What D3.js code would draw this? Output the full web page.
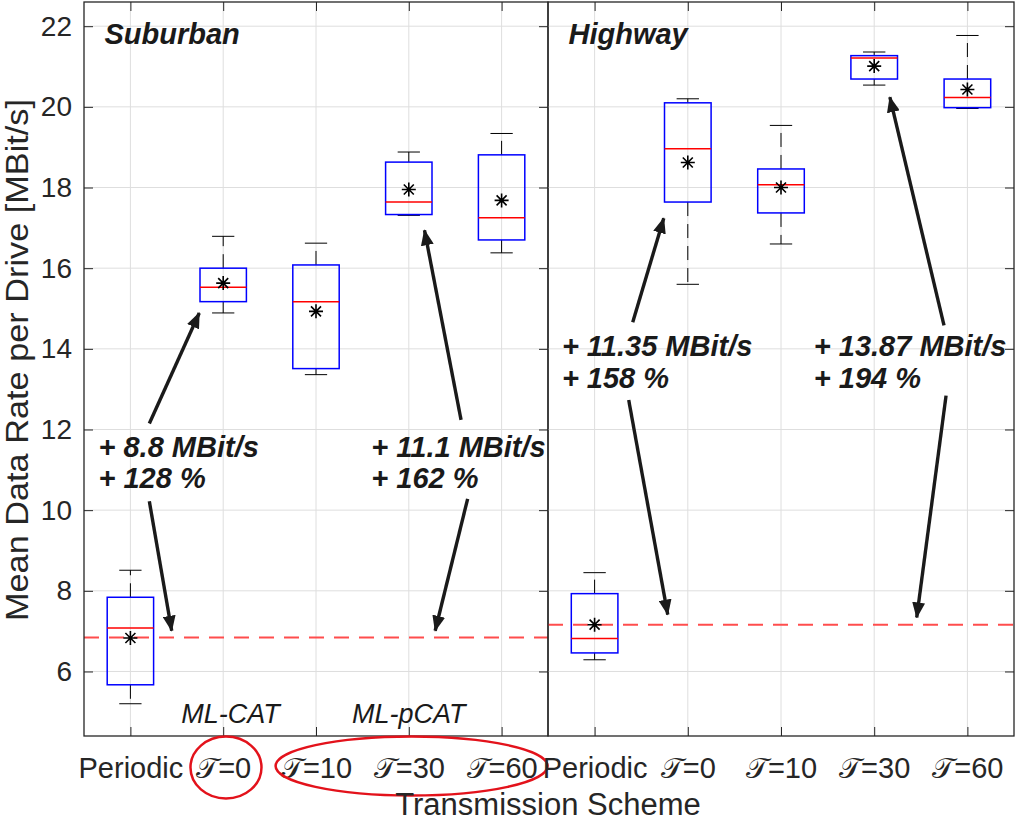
<!DOCTYPE html>
<html>
<head>
<meta charset="utf-8">
<script src="https://d3js.org/d3.v7.min.js"></script>
<style>
body { margin: 0; background: #fff; }
svg { display: block; font-family: 'Liberation Sans', Arial, sans-serif; }
</style>
</head>
<body>
<div id="chart"></div>
<script>
// tick labels
var schemes = ['Periodic', '\u{1D4AF}=0', '\u{1D4AF}=10', '\u{1D4AF}=30', '\u{1D4AF}=60'];
var yTicks = [6, 8, 10, 12, 14, 16, 18, 20, 22];

// suburban - box stats per scheme [MBit/s]
var subLow  = [5.20, 14.89, 13.36, 17.31, 16.38];
var subQ1   = [5.67, 15.17, 13.51, 17.33, 16.70];
var subMed  = [7.08, 15.53, 15.17, 17.64, 17.25];
var subQ3   = [7.84, 16.00, 16.08, 18.63, 18.81];
var subHigh = [8.51, 16.79, 16.62, 18.88, 19.34];
var subMean = [6.83, 15.63, 14.93, 17.95, 17.68];
var subBase = 6.84;

// highway
var hwLow  = [6.29, 15.60, 16.60, 20.54, 19.96];
var hwQ1   = [6.46, 17.64, 17.37, 20.69, 19.98];
var hwMed  = [6.82, 18.96, 18.07, 21.21, 20.23];
var hwQ3   = [7.93, 20.10, 18.46, 21.27, 20.69];
var hwHigh = [8.45, 20.20, 19.54, 21.36, 21.77];
var hwMean = [7.16, 18.62, 18.00, 21.01, 20.43];
var hwBase = 7.16;

// gains vs periodic
var subGainAbs = ['8.8', '11.1'];
var subGainPct = [128, 162];
var hwGainAbs = ['11.35', '13.87'];
var hwGainPct = [158, 194];

var width = 1015, height = 823;
var plotTop = 2, plotBottom = 736;

var y = d3.scaleLinear().domain([4.4, 22.6]).range([plotBottom, plotTop]);

// annotation layout in data units (category index, value)
var subNotes = [
    {text: [-0.344, 11.33], up: [[0.204, 12.15], [0.742, 14.89]], down: [[0.204, 10.22], [0.445, 7.01]]},
    {text: [2.596, 11.33], up: [[3.563, 12.24], [3.169, 16.94]], down: [[3.634, 10.28], [3.284, 7.01]]}
];
var hwNotes = [
    {text: [-0.351, 13.81], up: [[0.409, 14.66], [0.742, 17.24]], down: [[0.366, 12.73], [0.785, 7.41]]},
    {text: [2.352, 13.81], up: [[3.749, 14.58], [3.168, 20.24]], down: [[3.771, 12.84], [3.456, 7.34]]}
];

var panels = [
    {name: 'Suburban', x0: 84, x1: 548, low: subLow, q1: subQ1, med: subMed, q3: subQ3, high: subHigh, mean: subMean,
     base: subBase, gainAbs: subGainAbs, gainPct: subGainPct, notes: subNotes, left: true},
    {name: 'Highway', x0: 548, x1: 1014, low: hwLow, q1: hwQ1, med: hwMed, q3: hwQ3, high: hwHigh, mean: hwMean,
     base: hwBase, gainAbs: hwGainAbs, gainPct: hwGainPct, notes: hwNotes, left: false}
];

var svg = d3
.select('#chart')
.append('svg')
.attr('width', width)
.attr('height', height)
;

svg.append('defs')
.append('marker')
.attr('id', 'head')
.attr('markerUnits', 'userSpaceOnUse')
.attr('viewBox', '0 0 16 13')
.attr('refX', 15)
.attr('refY', 6.5)
.attr('markerWidth', 16)
.attr('markerHeight', 13)
.attr('orient', 'auto')
.append('path')
.attr('d', 'M0,0 L16,6.5 L0,13 Z')
.attr('fill', '#1a1a1a')
;

var idx = d3.range(5);

panels.forEach(function(p) {
    var x = d3.scaleLinear().domain([-0.5, 4.5]).range([p.x0, p.x1]);
    var g = svg.append('g').attr('class', 'panel');

    // grid
    g.selectAll('line.gx')
    .data(idx)
    .enter()
    .append('line')
    .attr('x1', function(d){return x(d);})
    .attr('x2', function(d){return x(d);})
    .attr('y1', plotTop)
    .attr('y2', plotBottom)
    .attr('stroke', '#dedede')
    .attr('stroke-width', 1)
    ;
    g.selectAll('line.gy')
    .data(yTicks)
    .enter()
    .append('line')
    .attr('x1', p.x0)
    .attr('x2', p.x1)
    .attr('y1', function(d){return y(d);})
    .attr('y2', function(d){return y(d);})
    .attr('stroke', '#dedede')
    .attr('stroke-width', 1)
    ;

    // periodic reference line
    g.append('line')
    .attr('x1', p.x0)
    .attr('x2', p.x1)
    .attr('y1', y(p.base))
    .attr('y2', y(p.base))
    .attr('stroke', '#ff4d4d')
    .attr('stroke-width', 2)
    .attr('stroke-dasharray', '15,10')
    ;

    // whiskers
    var half = 0.25, cap = 0.12;
    var box = g.selectAll('g.box')
    .data(idx)
    .enter()
    .append('g')
    .attr('class', 'box')
    ;
    box.append('line')
    .attr('x1', function(d){return x(d);})
    .attr('x2', function(d){return x(d);})
    .attr('y1', function(d){return y(p.q3[d]);})
    .attr('y2', function(d){return y(p.high[d]);})
    .attr('stroke', '#000')
    .attr('stroke-dasharray', '14,8')
    ;
    box.append('line')
    .attr('x1', function(d){return x(d);})
    .attr('x2', function(d){return x(d);})
    .attr('y1', function(d){return y(p.q1[d]);})
    .attr('y2', function(d){return y(p.low[d]);})
    .attr('stroke', '#000')
    .attr('stroke-dasharray', '14,8')
    ;
    ['high', 'low'].forEach(function(k) {
        box.append('line')
        .attr('x1', function(d){return x(d - cap);})
        .attr('x2', function(d){return x(d + cap);})
        .attr('y1', function(d){return y(p[k][d]);})
        .attr('y2', function(d){return y(p[k][d]);})
        .attr('stroke', '#000')
        .attr('stroke-width', 1)
        ;
    });
    box.append('rect')
    .attr('x', function(d){return x(d - half);})
    .attr('width', function(d){return x(d + half) - x(d - half);})
    .attr('y', function(d){return y(p.q3[d]);})
    .attr('height', function(d){return y(p.q1[d]) - y(p.q3[d]);})
    .attr('fill', 'none')
    .attr('stroke', '#0000ff')
    .attr('stroke-width', 1.5)
    ;
    box.append('line')
    .attr('x1', function(d){return x(d - half);})
    .attr('x2', function(d){return x(d + half);})
    .attr('y1', function(d){return y(p.med[d]);})
    .attr('y2', function(d){return y(p.med[d]);})
    .attr('stroke', '#ff0000')
    .attr('stroke-width', 1.5)
    ;
    box.append('path')
    .attr('transform', function(d){return 'translate(' + x(d) + ',' + y(p.mean[d]) + ')';})
    .attr('d', 'M-7,0H7M0,-7V7M-5,-5L5,5M-5,5L5,-5')
    .attr('stroke', '#000')
    .attr('stroke-width', 1.6)
    ;

    // axes
    var bottomAxis = d3.axisBottom(x)
    .tickValues(idx)
    .tickFormat(function(d){return schemes[d];})
    .tickSizeInner(-9)
    .tickSizeOuter(0)
    .tickPadding(21)
    ;
    var ax = g.append('g')
    .attr('transform', 'translate(0,' + plotBottom + ')')
    .call(bottomAxis)
    ;
    ax.select('.domain').remove();
    ax.selectAll('line').attr('stroke', '#262626');
    ax.selectAll('text')
    .attr('fill', '#262626')
    .style('font-size', '29px')
    ;

    var topAxis = g.append('g')
    .attr('transform', 'translate(0,' + plotTop + ')')
    .call(d3.axisTop(x).tickValues(idx).tickSizeInner(-9).tickSizeOuter(0).tickFormat(''))
    ;
    topAxis.select('.domain').remove();
    topAxis.selectAll('line').attr('stroke', '#262626');

    if (p.left) {
        var la = g.append('g')
        .attr('transform', 'translate(' + p.x0 + ',0)')
        .call(d3.axisLeft(y).tickValues(yTicks).tickSizeInner(-9).tickSizeOuter(0).tickPadding(12))
        ;
        la.select('.domain').remove();
        la.selectAll('line').attr('stroke', '#262626');
        la.selectAll('text')
        .attr('fill', '#262626')
        .style('font-size', '28px')
        ;
    }
    var ra = g.append('g')
    .attr('transform', 'translate(' + p.x1 + ',0)')
    .call(d3.axisRight(y).tickValues(yTicks).tickSizeInner(-9).tickSizeOuter(0).tickFormat(''))
    ;
    ra.select('.domain').remove();
    ra.selectAll('line').attr('stroke', '#262626');

    g.append('rect')
    .attr('x', p.x0)
    .attr('y', plotTop)
    .attr('width', p.x1 - p.x0)
    .attr('height', plotBottom - plotTop)
    .attr('fill', 'none')
    .attr('stroke', '#262626')
    .attr('stroke-width', 1.3)
    ;

    // panel title
    g.append('text')
    .attr('x', x(-0.28))
    .attr('y', y(21.57))
    .attr('font-weight', 'bold')
    .attr('font-style', 'italic')
    .style('font-size', '29px')
    .attr('fill', '#1a1a1a')
    .text(p.name)
    ;

    // gain annotations
    p.notes.forEach(function(n, i) {
        var t = g.append('text')
        .attr('x', x(n.text[0]))
        .attr('y', y(n.text[1]))
        .attr('font-weight', 'bold')
        .attr('font-style', 'italic')
        .style('font-size', '29px')
        .attr('fill', '#1a1a1a')
        ;
        t.append('tspan').attr('x', x(n.text[0])).text('+ ' + p.gainAbs[i] + ' MBit/s');
        t.append('tspan').attr('x', x(n.text[0])).attr('dy', '1.08em').text('+ ' + p.gainPct[i] + ' %');

        [n.up, n.down].forEach(function(a) {
            g.append('line')
            .attr('x1', x(a[0][0]))
            .attr('y1', y(a[0][1]))
            .attr('x2', x(a[1][0]))
            .attr('y2', y(a[1][1]))
            .attr('stroke', '#1a1a1a')
            .attr('stroke-width', 3.4)
            .attr('marker-end', 'url(#head)')
            ;
        });
    });

    if (p.left) {
        // scheme families
        g.append('text')
        .attr('x', x(1.08))
        .attr('y', y(4.71))
        .attr('text-anchor', 'middle')
        .attr('font-style', 'italic')
        .style('font-size', '27px')
        .attr('fill', '#1a1a1a')
        .text('ML-CAT')
        ;
        g.append('text')
        .attr('x', x(3.0))
        .attr('y', y(4.71))
        .attr('text-anchor', 'middle')
        .attr('font-style', 'italic')
        .style('font-size', '27px')
        .attr('fill', '#1a1a1a')
        .text('ML-pCAT')
        ;
        // red highlight rings under the tick labels
        g.append('ellipse')
        .attr('cx', x(1.03))
        .attr('cy', 767.5)
        .attr('rx', 35.5)
        .attr('ry', 31)
        .attr('fill', 'none')
        .attr('stroke', '#e3121b')
        .attr('stroke-width', 2.5)
        ;
        g.append('ellipse')
        .attr('cx', x(3.03))
        .attr('cy', 766)
        .attr('rx', 136)
        .attr('ry', 29.5)
        .attr('fill', 'none')
        .attr('stroke', '#e3121b')
        .attr('stroke-width', 2.5)
        ;
    }
});

// axis labels
svg.append('text')
.attr('x', 548)
.attr('y', 815)
.attr('text-anchor', 'middle')
.style('font-size', '31px')
.attr('fill', '#262626')
.text('Transmission Scheme')
;

svg.append('text')
.attr('transform', 'translate(28,360) rotate(-90)')
.attr('text-anchor', 'middle')
.attr('textLength', 522)
.attr('lengthAdjust', 'spacingAndGlyphs')
.style('font-size', '31px')
.attr('fill', '#262626')
.text('Mean Data Rate per Drive [MBit/s]')
;
</script>
</body>
</html>
